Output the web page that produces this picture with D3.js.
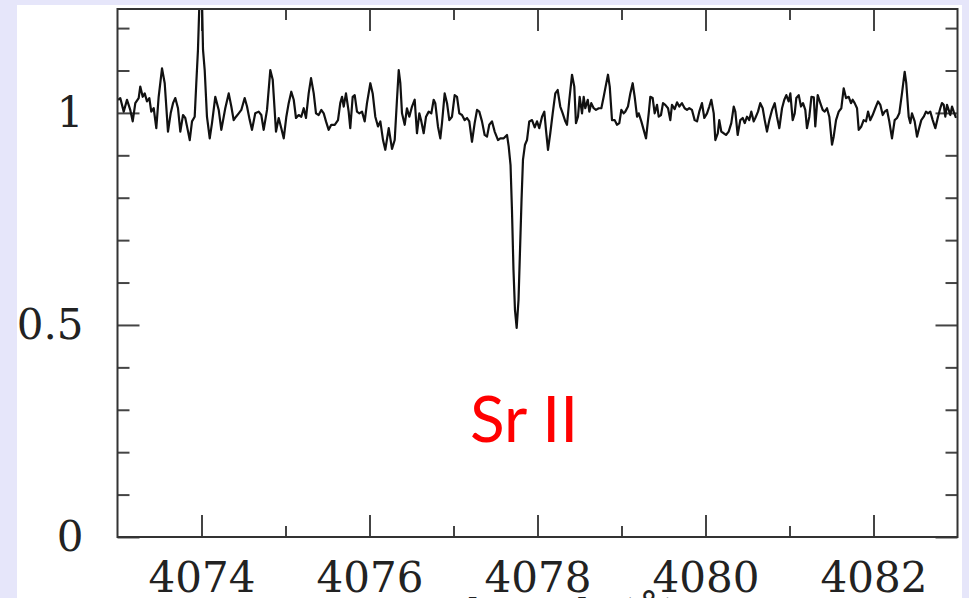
<!DOCTYPE html>
<html>
<head>
<meta charset="utf-8">
<script src="https://cdn.jsdelivr.net/npm/d3@7"></script>
<style>
  html, body { margin: 0; padding: 0; background: #e6e6fa; }
  svg { display: block; }
</style>
</head>
<body>
<svg id="spectrum"></svg>
<script>
// Normalised spectrum around the Sr II 4077 line
const wavelength = [
  4073.006, 4073.033, 4073.074, 4073.113, 4073.152, 4073.181, 4073.212, 4073.252, 4073.271, 4073.300,
  4073.324, 4073.351, 4073.379, 4073.402, 4073.431, 4073.462, 4073.490, 4073.530, 4073.562, 4073.601,
  4073.633, 4073.661, 4073.688, 4073.720, 4073.748, 4073.780, 4073.807, 4073.836, 4073.860, 4073.887,
  4073.919, 4073.938, 4073.958, 4073.994, 4074.018, 4074.038, 4074.065, 4074.098, 4074.125, 4074.164,
  4074.205, 4074.236, 4074.283, 4074.324, 4074.355, 4074.383, 4074.411, 4074.443, 4074.474, 4074.514,
  4074.542, 4074.574, 4074.601, 4074.640, 4074.681, 4074.712, 4074.740, 4074.780, 4074.819, 4074.848,
  4074.887, 4074.919, 4074.950, 4074.979, 4075.010, 4075.038, 4075.069, 4075.098, 4075.125, 4075.157,
  4075.188, 4075.217, 4075.244, 4075.276, 4075.304, 4075.336, 4075.363, 4075.395, 4075.426, 4075.455,
  4075.482, 4075.514, 4075.545, 4075.586, 4075.625, 4075.652, 4075.673, 4075.693, 4075.720, 4075.752,
  4075.771, 4075.800, 4075.824, 4075.851, 4075.879, 4075.911, 4075.943, 4075.970, 4076.010, 4076.038,
  4076.069, 4076.101, 4076.129, 4076.161, 4076.188, 4076.229, 4076.268, 4076.300, 4076.327, 4076.348,
  4076.367, 4076.387, 4076.419, 4076.446, 4076.474, 4076.506, 4076.538, 4076.565, 4076.593, 4076.617,
  4076.645, 4076.673, 4076.705, 4076.736, 4076.764, 4076.783, 4076.815, 4076.843, 4076.863, 4076.895,
  4076.923, 4076.950, 4076.982, 4077.014, 4077.042, 4077.069, 4077.101, 4077.133, 4077.161, 4077.188,
  4077.220, 4077.252, 4077.280, 4077.307, 4077.339, 4077.371, 4077.399, 4077.426, 4077.458, 4077.490,
  4077.530, 4077.557, 4077.598, 4077.637, 4077.657, 4077.679, 4077.696, 4077.714, 4077.732, 4077.752,
  4077.774, 4077.792, 4077.810, 4077.827, 4077.851, 4077.875, 4077.902, 4077.935, 4077.967, 4077.994,
  4078.021, 4078.054, 4078.081, 4078.101, 4078.125, 4078.152, 4078.181, 4078.212, 4078.240, 4078.271,
  4078.300, 4078.331, 4078.351, 4078.379, 4078.411, 4078.438, 4078.458, 4078.482, 4078.502, 4078.530,
  4078.550, 4078.569, 4078.598, 4078.617, 4078.640, 4078.669, 4078.696, 4078.729, 4078.760, 4078.788,
  4078.815, 4078.839, 4078.860, 4078.887, 4078.919, 4078.946, 4078.974, 4078.998, 4079.026, 4079.045,
  4079.077, 4079.105, 4079.133, 4079.157, 4079.185, 4079.205, 4079.236, 4079.264, 4079.292, 4079.324,
  4079.343, 4079.371, 4079.395, 4079.423, 4079.443, 4079.470, 4079.494, 4079.521, 4079.554, 4079.581,
  4079.601, 4079.633, 4079.661, 4079.688, 4079.720, 4079.752, 4079.780, 4079.807, 4079.839, 4079.871,
  4079.899, 4079.926, 4079.958, 4079.986, 4080.018, 4080.045, 4080.069, 4080.098, 4080.117, 4080.146,
  4080.164, 4080.188, 4080.217, 4080.244, 4080.276, 4080.307, 4080.336, 4080.355, 4080.383, 4080.414,
  4080.443, 4080.467, 4080.494, 4080.521, 4080.545, 4080.574, 4080.593, 4080.625, 4080.652, 4080.681,
  4080.705, 4080.732, 4080.760, 4080.792, 4080.824, 4080.851, 4080.879, 4080.911, 4080.938, 4080.962,
  4080.990, 4081.010, 4081.038, 4081.062, 4081.081, 4081.110, 4081.137, 4081.161, 4081.188, 4081.208,
  4081.236, 4081.261, 4081.289, 4081.307, 4081.336, 4081.367, 4081.395, 4081.419, 4081.446, 4081.474,
  4081.506, 4081.526, 4081.554, 4081.586, 4081.617, 4081.645, 4081.673, 4081.705, 4081.732, 4081.752,
  4081.776, 4081.804, 4081.824, 4081.855, 4081.883, 4081.911, 4081.935, 4081.962, 4081.990, 4082.021,
  4082.054, 4082.081, 4082.110, 4082.133, 4082.161, 4082.188, 4082.220, 4082.252, 4082.280, 4082.307,
  4082.339, 4082.371, 4082.390, 4082.419, 4082.438, 4082.458, 4082.490, 4082.518, 4082.538, 4082.569,
  4082.598, 4082.625, 4082.649, 4082.676, 4082.705, 4082.736, 4082.768, 4082.795, 4082.815, 4082.836,
  4082.855, 4082.875, 4082.895, 4082.914, 4082.935, 4082.955, 4082.982
];

const flux = [
  1.031, 1.035, 1.003, 1.031, 1.007, 0.980, 1.023, 1.035, 1.062, 1.038,
  1.046, 1.027, 1.035, 1.003, 1.011, 0.964, 1.038, 1.105, 1.070, 0.956,
  0.999, 1.023, 1.035, 1.011, 0.956, 0.995, 0.988, 0.960, 0.936, 0.980,
  0.991, 1.070, 1.149, 1.380, 1.149, 1.101, 0.991, 0.940, 0.976, 1.038,
  1.007, 0.960, 1.011, 1.046, 1.015, 0.983, 0.991, 0.999, 1.007, 1.035,
  1.015, 0.983, 0.960, 0.999, 1.003, 0.995, 0.960, 1.007, 1.101, 1.078,
  0.956, 0.988, 0.964, 0.940, 0.991, 1.023, 1.050, 1.031, 0.988, 0.995,
  0.991, 1.011, 0.988, 1.046, 1.082, 1.046, 0.999, 0.995, 1.007, 0.999,
  0.980, 0.960, 0.972, 0.972, 0.983, 1.023, 1.038, 1.015, 1.046, 1.003,
  0.964, 1.038, 1.042, 1.003, 0.999, 1.003, 0.980, 1.023, 1.070, 1.046,
  0.991, 0.968, 0.980, 0.936, 0.913, 0.964, 0.915, 0.936, 1.031, 1.101,
  1.070, 0.999, 0.972, 1.011, 0.991, 1.015, 1.031, 0.952, 0.999, 0.980,
  0.952, 0.991, 1.003, 0.999, 1.031, 1.023, 0.968, 0.940, 0.976, 1.046,
  1.023, 0.983, 0.991, 1.042, 1.038, 0.999, 0.995, 0.983, 0.988, 0.980,
  0.932, 0.976, 1.007, 1.003, 0.980, 0.948, 0.944, 0.972, 0.980, 0.956,
  0.936, 0.940, 0.940, 0.948, 0.921, 0.877, 0.771, 0.630, 0.535, 0.493,
  0.559, 0.677, 0.795, 0.889, 0.925, 0.936, 0.980, 0.983, 0.966, 0.980,
  0.964, 0.991, 1.003, 0.960, 0.913, 0.952, 0.999, 1.046, 1.054, 1.015,
  0.999, 0.980, 0.972, 1.031, 1.090, 1.062, 0.976, 0.991, 1.038, 0.999,
  1.038, 1.011, 1.031, 1.003, 1.023, 1.011, 1.007, 1.011, 1.011, 1.038,
  1.066, 1.090, 1.062, 0.983, 0.983, 0.972, 0.976, 1.007, 0.999, 1.003,
  1.015, 1.046, 1.070, 1.038, 0.991, 0.999, 0.980, 0.960, 0.940, 0.999,
  1.038, 1.035, 0.999, 1.019, 0.991, 0.995, 1.023, 1.019, 1.011, 0.983,
  1.019, 1.009, 1.025, 1.015, 1.023, 1.011, 1.007, 1.011, 1.007, 0.983,
  0.980, 1.003, 1.023, 0.988, 0.999, 1.015, 1.031, 0.999, 0.936, 0.952,
  0.983, 0.956, 0.952, 0.948, 0.956, 0.976, 1.015, 1.003, 0.948, 0.983,
  0.988, 0.976, 0.991, 0.983, 1.003, 0.980, 0.988, 1.003, 1.023, 1.011,
  0.983, 0.956, 0.983, 1.007, 1.023, 0.991, 0.964, 1.011, 1.031, 1.042,
  1.027, 1.046, 0.983, 0.999, 1.035, 1.042, 1.015, 1.023, 1.007, 0.964,
  0.991, 1.038, 1.037, 0.968, 1.042, 1.023, 1.007, 1.003, 1.011, 0.991,
  0.925, 0.944, 0.983, 1.003, 1.011, 1.058, 1.035, 1.038, 1.023, 1.031,
  1.023, 1.011, 0.960, 0.968, 0.983, 0.980, 1.003, 0.983, 0.995, 1.011,
  1.027, 1.019, 0.995, 1.003, 1.007, 0.980, 0.940, 0.983, 0.988, 0.999,
  1.046, 1.097, 1.070, 0.991, 0.976, 0.999, 0.980, 0.944, 0.960, 0.983,
  0.991, 1.003, 0.999, 1.003, 0.983, 0.964, 0.991, 1.011, 1.023, 1.019,
  0.991, 1.019, 1.007, 0.995, 1.015, 1.003, 0.988
];

const xMajorTicks = [4074, 4076, 4078, 4080, 4082];
const xMinorTicks = [4075, 4077, 4079, 4081];
const yMajorTicks = [0, 0.5, 1];
const yMinorTicks = [0.1, 0.2, 0.3, 0.4, 0.6, 0.7, 0.8, 0.9, 1.1, 1.2];

const data = wavelength.map((w, i) => ({ w: w, f: flux[i] }));

const totalWidth = 969, totalHeight = 598;
const margin = { top: 9, right: 11.5, bottom: 61, left: 117.5 },
    width = totalWidth - margin.left - margin.right,
    height = totalHeight - margin.top - margin.bottom;

const root = d3.select("#spectrum")
    .attr("width", totalWidth)
    .attr("height", totalHeight);

// lavender page + white panel
root.append("rect")
    .attr("width", totalWidth)
    .attr("height", totalHeight)
    .attr("fill", "#e6e6fa");
root.append("rect")
    .attr("x", 17).attr("y", 5)
    .attr("width", 945).attr("height", 600)
    .attr("fill", "#ffffff");

const svg = root.append("g")
    .attr("transform", `translate(${margin.left},${margin.top})`);

const x = d3.scaleLinear().domain([4073, 4083]).range([0, width]);
const y = d3.scaleLinear().domain([0, 1.245]).range([height, 0]);

// helper: inward ticks, no domain line
function styleAxis(g) {
    g.select(".domain").remove();
    g.selectAll(".tick line").attr("stroke", "#444").attr("stroke-width", 2);
    g.attr("font-family", "'DejaVu Serif', serif").attr("font-size", 42);
    g.selectAll(".tick text").attr("fill", "#222");
}

// bottom axis with labels
svg.append("g")
    .attr("transform", `translate(0,${height})`)
    .call(d3.axisBottom(x).tickValues(xMajorTicks).tickSize(-22).tickPadding(25).tickFormat(d3.format("d")))
    .call(styleAxis);
svg.append("g")
    .attr("transform", `translate(0,${height})`)
    .call(d3.axisBottom(x).tickValues(xMinorTicks).tickSize(-11).tickFormat(""))
    .call(styleAxis);

// top axis (ticks only)
svg.append("g")
    .call(d3.axisTop(x).tickValues(xMajorTicks).tickSize(-22).tickFormat(""))
    .call(styleAxis);
svg.append("g")
    .call(d3.axisTop(x).tickValues(xMinorTicks).tickSize(-11).tickFormat(""))
    .call(styleAxis);

// left axis with labels
svg.append("g")
    .call(d3.axisLeft(y).tickValues(yMajorTicks).tickSize(-22).tickPadding(34).tickFormat(d => d))
    .call(styleAxis);
svg.append("g")
    .call(d3.axisLeft(y).tickValues(yMinorTicks).tickSize(-12).tickFormat(""))
    .call(styleAxis);

// right axis (ticks only)
svg.append("g")
    .attr("transform", `translate(${width},0)`)
    .call(d3.axisRight(y).tickValues(yMajorTicks).tickSize(-22).tickFormat(""))
    .call(styleAxis);
svg.append("g")
    .attr("transform", `translate(${width},0)`)
    .call(d3.axisRight(y).tickValues(yMinorTicks).tickSize(-12).tickFormat(""))
    .call(styleAxis);

// x axis title, mostly cut off by the bottom of the picture
svg.append("text")
    .attr("x", width / 2 - 20)
    .attr("y", height + 93)
    .attr("text-anchor", "middle")
    .attr("font-family", "'DejaVu Serif', serif")
    .attr("font-size", 42)
    .attr("fill", "#222")
    .text("Wavelength (Å)");

// clip so the spike at 4074 stops at the frame
svg.append("clipPath")
    .attr("id", "plot-clip")
    .append("rect")
    .attr("width", width)
    .attr("height", height);

const line = d3.line()
    .x(d => x(d.w))
    .y(d => y(d.f));

svg.append("path")
    .datum(data)
    .attr("clip-path", "url(#plot-clip)")
    .attr("d", line)
    .attr("fill", "none")
    .attr("stroke", "#111")
    .attr("stroke-width", 2.2)
    .attr("stroke-linejoin", "round");

// frame
svg.append("rect")
    .attr("width", width)
    .attr("height", height)
    .attr("fill", "none")
    .attr("stroke", "#333")
    .attr("stroke-width", 2);

// line label
svg.append("text")
    .attr("x", x(4077.196))
    .attr("y", y(0.224))
    .attr("font-family", "Lato, 'Open Sans', sans-serif")
    .attr("font-size", 64)
    .attr("fill", "#ff0000")
    .text("Sr II");
</script>
</body>
</html>
